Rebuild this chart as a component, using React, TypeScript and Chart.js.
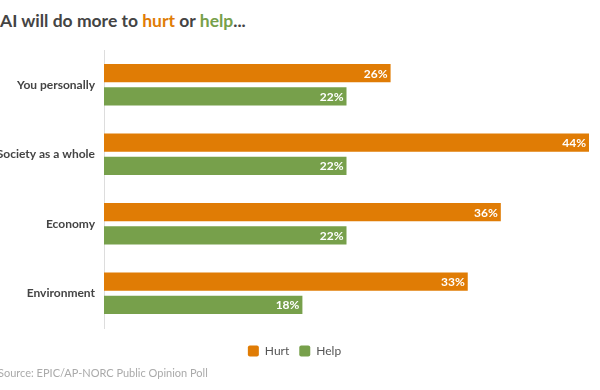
import React, { useEffect, useRef } from "react";
import { Chart, registerables } from "chart.js";

Chart.register(...registerables);

const categories = ["You personally", "Society as a whole", "Economy", "Environment"];
const hurtValues = [26, 44, 36, 33];
const helpValues = [22, 22, 22, 18];
const seriesNames = ["Hurt", "Help"];

const ORANGE = "#E07C05";
const GREEN = "#77A04B";
const FONT = "Lato, 'Open Sans', sans-serif";

const valueLabels = {
  id: "valueLabels",
  afterDatasetsDraw(chart: any) {
    const ctx = chart.ctx;
    ctx.save();
    ctx.font = `bold 12px ${FONT}`;
    ctx.fillStyle = "#ffffff";
    ctx.textAlign = "right";
    ctx.textBaseline = "middle";
    chart.data.datasets.forEach((ds: any, i: number) => {
      const meta = chart.getDatasetMeta(i);
      meta.data.forEach((bar: any, j: number) => {
        ctx.fillText(ds.data[j] + "%", bar.x - 3, bar.y + 0.5);
      });
    });
    ctx.restore();
  },
};

export default function App() {
  const ref = useRef<HTMLCanvasElement>(null);
  useEffect(() => {
    const chart = new Chart(ref.current!, {
      type: "bar",
      data: {
        labels: categories,
        datasets: [
          { label: seriesNames[0], data: hurtValues, backgroundColor: ORANGE, borderWidth: 0 },
          { label: seriesNames[1], data: helpValues, backgroundColor: GREEN, borderWidth: 0 },
        ],
      },
      options: {
        indexAxis: "y",
        animation: false,
        responsive: false,
        maintainAspectRatio: false,
        categoryPercentage: 0.667,
        barPercentage: 0.78,
        layout: { padding: { top: 50, right: 11, bottom: 23, left: 0 } },
        scales: {
          x: {
            display: true,
            position: "bottom",
            min: 0,
            max: 44,
            grid: { display: false, drawTicks: false },
            border: { display: false },
            ticks: { display: false },
            afterFit: (scale: any) => {
              scale.height = 7;
            },
          },
          y: {
            afterFit: (scale: any) => {
              scale.width = 104;
            },
            grid: { display: false },
            border: { display: true, color: "#dddddd", dash: [2, 2] },
            ticks: {
              color: "#444444",
              font: { family: FONT, size: 12, weight: "bold" },
              padding: 1,
            },
          },
        },
        plugins: {
          legend: {
            position: "bottom",
            labels: {
              color: "#555555",
              font: { family: FONT, size: 12 },
              boxWidth: 11,
              boxHeight: 11,
              useBorderRadius: true,
              borderRadius: 2,
              padding: 10,
            },
          },
          tooltip: { enabled: false },
        },
      },
      plugins: [valueLabels],
    } as any);
    return () => chart.destroy();
  }, []);

  return (
    <div style={{ position: "absolute", left: 0, top: 0, width: 600, height: 390, background: "#fff" }}>
      <div
        style={{
          position: "absolute",
          left: 0,
          top: 10,
          fontFamily: FONT,
          fontWeight: 700,
          fontSize: 17.5,
          color: "#444444",
          whiteSpace: "nowrap",
        }}
      >
        AI will do more to <span style={{ color: ORANGE }}>hurt</span> or{" "}
        <span style={{ color: GREEN }}>help</span>...
      </div>
      <canvas ref={ref} width={600} height={390} style={{ position: "absolute", left: 0, top: 0 }} />
      <div
        style={{
          position: "absolute",
          left: -2,
          top: 366,
          fontFamily: FONT,
          fontSize: 11,
          color: "#aaaaaa",
          whiteSpace: "nowrap",
        }}
      >
        Source: EPIC/AP-NORC Public Opinion Poll
      </div>
    </div>
  );
}
